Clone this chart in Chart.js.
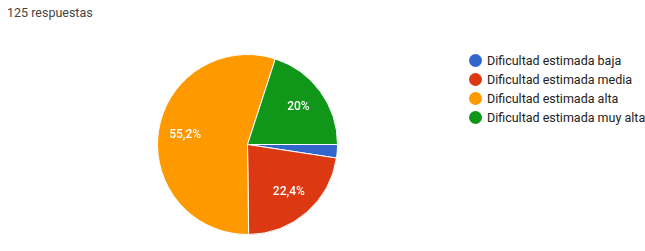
<!DOCTYPE html>
<html>
<head>
<meta charset="utf-8">
<script src="https://cdn.jsdelivr.net/npm/chart.js@4"></script>
<style>
  html, body { margin: 0; padding: 0; background: #fff; }
  body { width: 645px; height: 251px; position: relative; overflow: hidden; font-family: Roboto, sans-serif; }
  #title { position: absolute; left: 7px; top: 5px; font-size: 12.5px; color: #444; }
  #pie-wrap { position: absolute; left: 157px; top: 54px; width: 181px; height: 181px; }
  #legend { position: absolute; left: 469px; top: 51px; white-space: nowrap; }
  .row { height: 19px; display: flex; align-items: center; font-size: 12.5px; color: #222; }
  .dot { width: 13px; height: 13px; border-radius: 50%; margin-right: 5px; flex: none; }
</style>
</head>
<body>
<div id="title">125 respuestas</div>
<div id="pie-wrap"><canvas id="pie"></canvas></div>
<div id="legend"></div>

<script>
// ── Data ─────────────────────────────────────────────────────
const categorias = ['Dificultad estimada baja', 'Dificultad estimada media', 'Dificultad estimada alta', 'Dificultad estimada muy alta'];
const porcentajes = [2.4, 22.4, 55.2, 20];
const etiquetas = ['', '22,4%', '55,2%', '20%'];
const colores = ['#3366cc', '#dc3912', '#ff9900', '#109618'];

// ── Legend ───────────────────────────────────────────────────
function buildLegend() {
    const leg = document.getElementById('legend');
    categorias.forEach((c, i) => {
        const row = document.createElement('div');
        row.className = 'row';
        row.innerHTML = `<span class="dot" style="background:${colores[i]}"></span><span>${c}</span>`;
        leg.appendChild(row);
    });
}

// ── Slice labels ─────────────────────────────────────────────
const sliceLabels = {
    id: 'sliceLabels',
    afterDatasetsDraw(chart) {
        const ctx = chart.ctx;
        const meta = chart.getDatasetMeta(0);
        ctx.save();
        ctx.fillStyle = '#fff';
        ctx.font = '500 12px Roboto';
        ctx.textAlign = 'center';
        ctx.textBaseline = 'middle';
        meta.data.forEach((arc, i) => {
            if (!etiquetas[i]) return;
            const mid = (arc.startAngle + arc.endAngle) / 2;
            const r = arc.outerRadius * 0.7;
            ctx.fillText(etiquetas[i], arc.x + Math.cos(mid) * r, arc.y + Math.sin(mid) * r);
        });
        ctx.restore();
    }
};

function initChart() {
    new Chart(document.getElementById('pie'), {
        type: 'pie',
        data: {
            labels: categorias,
            datasets: [{
                data: porcentajes,
                backgroundColor: colores,
                borderColor: '#fff',
                borderWidth: 1
            }]
        },
        options: {
            responsive: true,
            maintainAspectRatio: false,
            animation: false,
            rotation: 90,
            plugins: { legend: { display: false }, tooltip: { enabled: false } }
        },
        plugins: [sliceLabels]
    });
}

buildLegend();
initChart();
</script>
</body>
</html>
